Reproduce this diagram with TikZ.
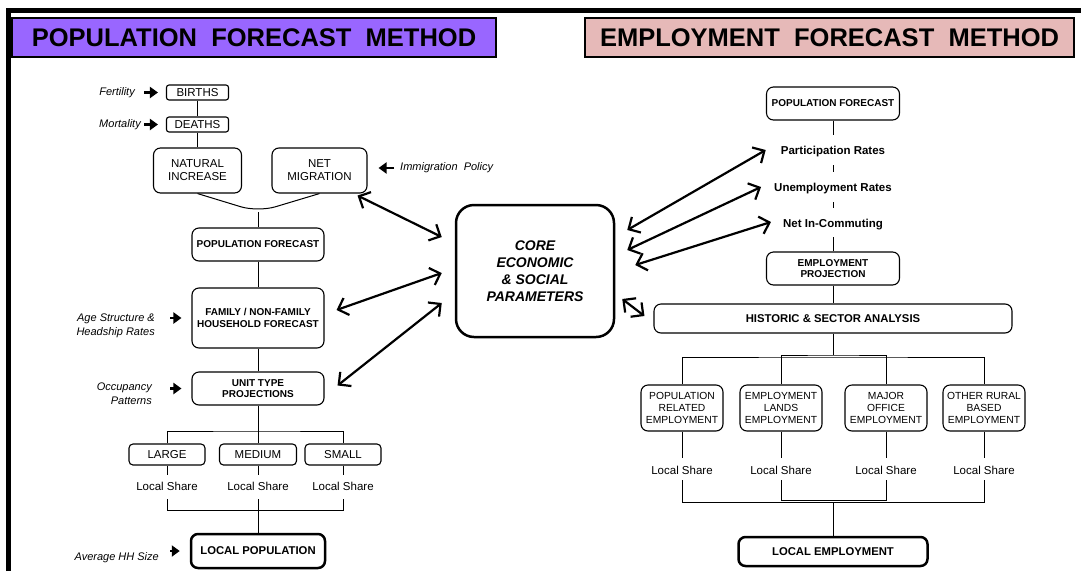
\documentclass[tikz,border=0pt]{standalone}
\usepackage{fontspec}
\setmainfont{Liberation Sans}
\usetikzlibrary{arrows.meta,positioning}
\definecolor{popviolet}{RGB}{153,102,255}
\definecolor{emppink}{RGB}{230,185,184}
\tikzset{
  frame/.style={line width=5pt},
  title/.style={draw, line width=2.5pt, inner sep=0pt, minimum height=39pt, font=\fontsize{25.5}{30}\selectfont\bfseries},
  box/.style={draw, line width=1.1pt, rounded corners=7pt, align=center, inner sep=1pt, font=\fontsize{11.5}{13}\selectfont},
  tinybox/.style={box, rounded corners=2.5pt, minimum width=62pt, minimum height=15pt},
  sizebox/.style={box, rounded corners=4pt, minimum width=76pt, minimum height=21pt},
  boldbox/.style={box, minimum width=132pt, minimum height=33pt, font=\fontsize{10}{11.5}\selectfont\bfseries},
  sectbox/.style={box, minimum width=82pt, minimum height=46pt, font=\fontsize{10.3}{11.7}\selectfont},
  endbox/.style={box, line width=2.5pt, font=\fontsize{11.3}{13}\selectfont\bfseries},
  hub/.style={draw, line width=2.5pt, rounded corners=18pt, minimum width=158pt, minimum height=132pt, align=center, font=\fontsize{14}{17}\selectfont\bfseries\itshape},
  tag/.style={inner sep=0pt, align=right, font=\fontsize{11}{14}\selectfont\itshape},
  rate/.style={inner sep=0pt, text height=8pt, text depth=2pt, font=\fontsize{11.5}{13}\selectfont\bfseries},
  share/.style={inner sep=0pt, text height=8pt, text depth=2pt, font=\fontsize{11.5}{13}\selectfont},
  link/.style={line width=1pt},
  feed/.style={line width=2.4pt, -{Triangle[length=8pt,width=11pt]}},
  twoway/.style={line width=2.2pt, {Straight Barb[length=9pt,width=18pt]}-{Straight Barb[length=9pt,width=18pt]}},
}
\begin{document}
\begin{tikzpicture}[x=1pt,y=-1pt]
\useasboundingbox (0,0) rectangle (1081,571);
\draw[frame] (8,571) -- (8,10) -- (1081,10);
\node[title, fill=popviolet, minimum width=484pt] (poptitle) at (254,37.5) {POPULATION\ \ FORECAST\ \ METHOD};
\node[title, fill=emppink, minimum width=489pt] (emptitle) at (829.5,37.5) {EMPLOYMENT\ \ FORECAST\ \ METHOD};

% population side
\node[tinybox] (births) at (197.5,92.5) {BIRTHS};
\node[tinybox] (deaths) at (197.5,124.5) {DEATHS};
\node[box, minimum width=88pt, minimum height=45pt] (natinc) at (197.5,170.5) {NATURAL\\INCREASE};
\node[box, minimum width=95pt, minimum height=45pt] (netmig) at (319.5,170.5) {NET\\MIGRATION};
\coordinate (join) at (258,212);
\node[boldbox] (popfc) at (258,244.5) {POPULATION FORECAST};
\node[boldbox, minimum height=60pt] (family) at (258,318) {FAMILY / NON-FAMILY\\HOUSEHOLD FORECAST};
\node[boldbox] (unit) at (258,388.5) {UNIT TYPE\\PROJECTIONS};
\coordinate (ubar) at (258,431);
\node[sizebox] (large) at (167,454.5) {LARGE};
\node[sizebox, minimum width=77pt] (medium) at (258,454.5) {MEDIUM};
\node[sizebox] (small) at (343,454.5) {SMALL};
\node[share] (ls1) at (167,487) {Local Share};
\node[share] (ls2) at (258,487) {Local Share};
\node[share] (ls3) at (343,487) {Local Share};
\coordinate (lbar) at (258,510);
\node[endbox, minimum width=134pt, minimum height=34pt] (locpop) at (258,551) {LOCAL POPULATION};

\node[tag, anchor=east] (fert) at (135,92.5) {Fertility};
\node[tag, anchor=east] (mort) at (141,124.5) {Mortality};
\node[tag, anchor=west] (immig) at (400,168) {Immigration\ \ Policy};
\node[tag, anchor=east] (agetag) at (155,325.5) {Age Structure \&\\Headship Rates};
\node[tag, anchor=east] (occtag) at (152,394) {Occupancy\\Patterns};
\node[tag, anchor=east] (avgtag) at (159,558) {Average HH Size};

\draw[link] (births) -- (deaths);
\draw[link] (deaths) -- (natinc);
\draw[link, rounded corners=18pt] (natinc.south) -- (join) -- (netmig.south);
\draw[link] (join) -- (popfc);
\draw[link] (popfc) -- (family);
\draw[link] (family) -- (unit);
\draw[link] (unit) -- (ubar);
\draw[link] (large) |- (ubar) -| (small);
\draw[link] (ubar) -- (medium);
\foreach \b/\s in {large/ls1,medium/ls2,small/ls3}
  \draw[link, shorten >=7pt] (\b) -- (\s);
\draw[link, shorten <=7pt, shorten >=7pt] (ls1) |- (lbar) -| (ls3);
\draw[link, shorten <=7pt] (ls2) -- (lbar);
\draw[link] (lbar) -- (locpop);

\draw[feed, shorten <=9pt, shorten >=8pt] (fert.east) -- (births.west);
\draw[feed, shorten <=3pt, shorten >=8pt] (mort.east) -- (deaths.west);
\draw[feed, shorten <=6pt, shorten >=11pt] (immig.west) -- (immig.west -| netmig.east);
\draw[feed, shorten <=15pt, shorten >=10pt] (agetag.east |- family.west) -- (family.west);
\draw[feed, shorten <=18pt, shorten >=10pt] (occtag.east |- unit.west) -- (unit.west);
\draw[feed, shorten <=11pt, shorten >=10pt] (avgtag.east |- locpop.west) -- (locpop.west);

% shared parameters
\node[hub] (core) at (535,271) {CORE\\ECONOMIC\\\& SOCIAL\\PARAMETERS};
\draw[twoway] ([shift={(-10,2)}]netmig.south east) -- ([shift={(-13,-34)}]core.west);
\draw[twoway] ([shift={(12,-8)}]family.east) -- ([shift={(-13,2)}]core.west);
\draw[twoway] ([shift={(13,-3)}]unit.east) -- ([shift={(-13,32)}]core.west);

% employment side
\node[boldbox, minimum width=133pt] (popfc2) at (833,103.5) {POPULATION FORECAST};
\node[rate] (partrate) at (833,151) {Participation Rates};
\node[rate] (unemprate) at (833,188) {Unemployment Rates};
\node[rate] (netcomm) at (833,224) {Net In-Commuting};
\node[boldbox, minimum width=133pt] (emproj) at (833,268.5) {EMPLOYMENT\\PROJECTION};
\node[boldbox, minimum width=358pt, minimum height=29pt, font=\fontsize{11.3}{13}\selectfont\bfseries] (historic) at (833,318.5) {HISTORIC \& SECTOR ANALYSIS};
\coordinate (hbar) at (833,355);
\coordinate (obar) at (833,357);
\node[sectbox] (popemp) at (682,408) {POPULATION\\RELATED\\EMPLOYMENT};
\node[sectbox] (landemp) at (781,408) {EMPLOYMENT\\LANDS\\EMPLOYMENT};
\node[sectbox] (offemp) at (886,408) {MAJOR\\OFFICE\\EMPLOYMENT};
\node[sectbox] (ruremp) at (984,408) {OTHER RURAL\\BASED\\EMPLOYMENT};
\node[share] (ls4) at (682,471) {Local Share};
\node[share] (ls5) at (781,471) {Local Share};
\node[share] (ls6) at (886,471) {Local Share};
\node[share] (ls7) at (984,471) {Local Share};
\coordinate (lobar) at (833,502);
\coordinate (libar) at (833,500);
\node[endbox, minimum width=189pt, minimum height=29pt] (locemp) at (833,551.5) {LOCAL EMPLOYMENT};

\draw[link, shorten >=11pt] (popfc2) -- (partrate);
\draw[link, shorten <=9pt, shorten >=11pt] (partrate) -- (unemprate);
\draw[link, shorten <=9pt, shorten >=11pt] (unemprate) -- (netcomm);
\draw[link, shorten <=8pt] (netcomm) -- (emproj);
\draw[link] (emproj) -- (historic);
\draw[link] (historic) -- (hbar);
\draw[link] (popemp) |- (obar) -| (ruremp);
\draw[link] (landemp) |- (hbar) -| (offemp);
\foreach \b/\s in {popemp/ls4,landemp/ls5,offemp/ls6,ruremp/ls7}
  \draw[link, shorten >=8pt] (\b) -- (\s);
\draw[link, shorten <=4pt, shorten >=4pt] (ls4) |- (lobar) -| (ls7);
\draw[link, shorten <=4pt, shorten >=4pt] (ls5) |- (libar) -| (ls6);
\draw[link] (lobar) -- (locemp);

\draw[twoway] ([shift={(12,-41)}]core.east) -- ([shift={(-15,-1)}]partrate.west);
\draw[twoway] ([shift={(12,-21)}]core.east) -- ([shift={(-13,-1)}]unemprate.west);
\draw[twoway] ([shift={(20,-6)}]core.east) -- ([shift={(-12,-2)}]netcomm.west);
\draw[twoway] ([shift={(7,28)}]core.east) -- ([shift={(-9,-2.5)}]historic.west);
\end{tikzpicture}
\end{document}
